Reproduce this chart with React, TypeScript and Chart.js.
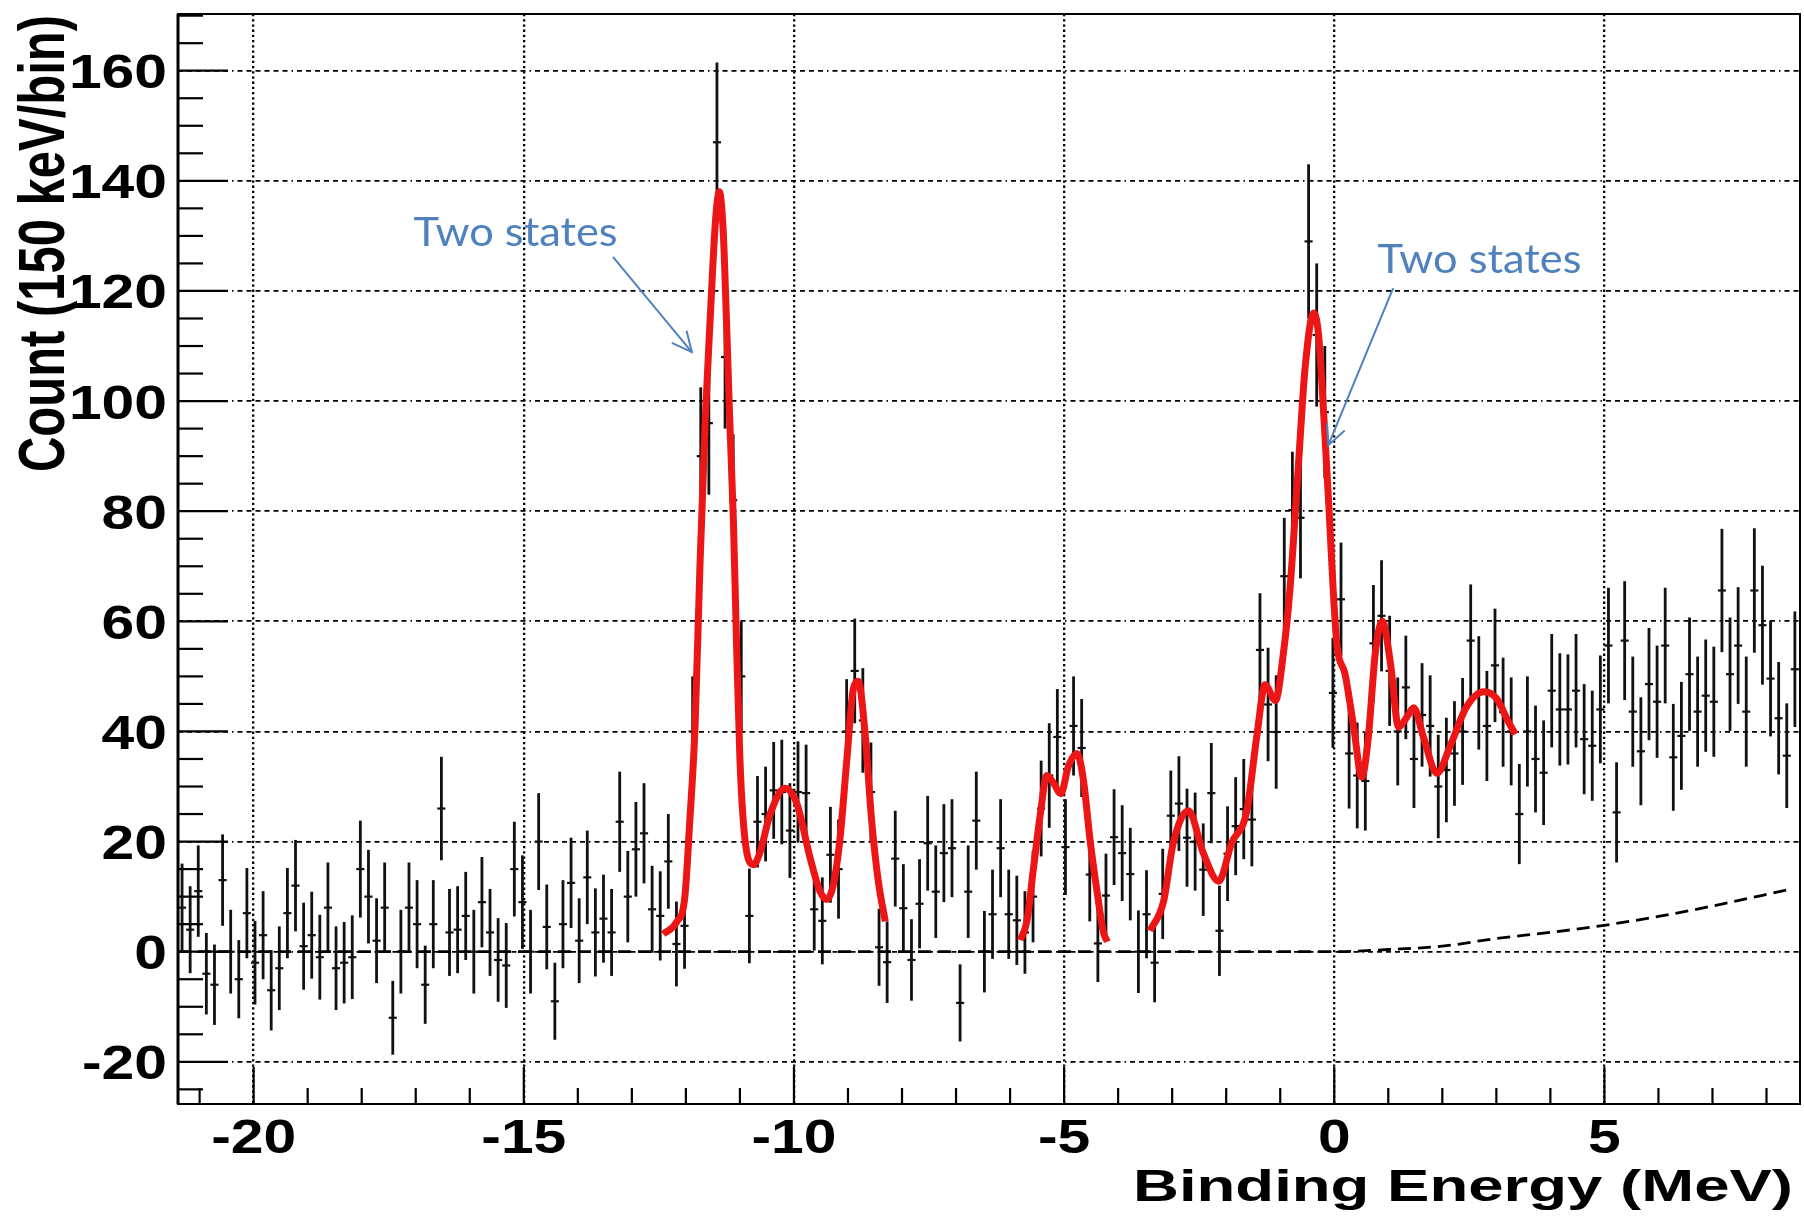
import React, { useEffect, useRef } from "react";
import { Chart, registerables } from "chart.js";

Chart.register(...registerables);

// ---------- data ----------
const BIN_LOW = -21.4; // MeV, lower edge of first bin
const BIN_WIDTH = 0.15; // MeV (150 keV/bin)

const COUNTS = [
  8, 4, 11, -4, -6, 13, 0, -5, 7, -2,
  3, -7, -3, 7, 12, 1, 3, -1, 8, -3,
  -2, -1, 15, 10, 2, 8, -12, 0, 8, 5,
  -6, 5, 26, 3.5, 4, 6.5, 0, 9, 3.5, -1.5,
  -2.5, 15, 9, 0, 20, 4.5, -9, 5, 12.5, 2,
  13.5, 3.5, 6, 3.5, 23.6, 10, 18.6, 21.5, 7.7, 6.5,
  16.4, 1.4, 4.7, 40, 90, 96, 147, 108, 82, 50,
  6.5, 23.6, 25, 29.3, 29, 22, 29, 28.8, 7.7, 5.6,
  17.6, 15, 40, 51, 42, 29, 0.8, -1.9, 16.9, 7.9,
  -1.5, 8.7, 19.7, 10.9, 17.9, 18.8, -9.3, 10.9, 23.8, 0,
  6.8, 18.8, 6.8, 5.7, 3.5, 10, 26, 32, 39, 19,
  41, 37, 14, 1.5, 10.2, 20.8, 17.9, 14.1, 0, 6.8,
  -2, 10.5, 24.7, 26.9, 20.7, 20, 14.9, 28.8, 3.8, 17.8,
  22.8, 25.9, 24, 54.8, 44.9, 39.9, 68.2, 80.2, 78.8, 129,
  112, 98, 47, 64, 36, 32, 31, 56, 61, 51,
  40, 48, 35, 43, 41, 30, 33, 36, 40, 56.5,
  47, 41, 52, 43.5, 40, 25, 40, 35, 32.5, 47.4,
  44, 44, 47.4, 38.6, 37.4, 44, 55.6, 25.3, 56.5, 43.6,
  36.4, 48.6, 45.4, 55.6, 35.3, 39.2, 50.4, 43.6, 46.5, 45.4,
  65.6, 50.4, 55.6, 43.6, 65.6, 59.3, 49.6, 42.4, 35.6, 51.3,
];

const ERRORS = [
  8, 7.9, 8.3, 7.4, 7.3, 8.3, 7.6, 7.1, 8.2, 7.6,
  8, 7.3, 7.6, 8.2, 8.3, 7.9, 7.9, 7.7, 8.2, 7.6,
  7.4, 7.6, 8.8, 8.5, 7.7, 8.2, 6.7, 7.6, 8.2, 8,
  7.1, 8, 9.4, 7.9, 7.9, 8, 7.6, 8.2, 7.9, 7.6,
  7.7, 8.6, 8.5, 7.6, 8.8, 7.7, 7, 8, 8.2, 7.7,
  8.5, 8, 8, 7.9, 9.1, 8.3, 8.6, 9.1, 7.9, 8.1,
  8.6, 7.7, 7.8, 10, 12.5, 13, 14.5, 13, 12, 10,
  8.6, 8.3, 8.6, 8.8, 9.5, 8.6, 9.2, 8.8, 7.5, 7.9,
  8.7, 9, 9.5, 9.5, 9.5, 9, 7, 7.4, 8.7, 8,
  7.4, 8.1, 8.6, 8.4, 8.9, 8.9, 7, 8.4, 8.9, 7.4,
  8.1, 8.9, 8.1, 8.1, 7.5, 8.3, 8.7, 9.5, 8.7, 8.7,
  9, 8.9, 8.5, 7, 7.6, 8.7, 8.7, 8.4, 7.5, 8,
  7.2, 8.2, 8.2, 8.6, 8.9, 8.9, 8.4, 9.1, 8.2, 8.6,
  8.9, 9.1, 8.5, 10.3, 10.3, 10.3, 10.6, 10.6, 11, 14,
  13, 12, 10, 10.3, 10, 9.6, 9, 10.6, 10.1, 10,
  9.8, 9.4, 8.9, 9.4, 9.2, 9.4, 9.5, 9.5, 9.7, 10.2,
  10.3, 10, 10.3, 9.9, 9.8, 9.1, 10, 9.7, 9.5, 10.3,
  10.2, 10, 10.3, 10, 10, 9.8, 10.5, 9.1, 10.8, 10,
  9.8, 10.2, 10.2, 10.5, 9.7, 9.8, 10.3, 10, 10.2, 10,
  11.2, 10.3, 10.6, 10, 11.3, 10.8, 10.5, 10.2, 9.5, 10.5,
];

// fitted curve (three segments)
const FIT1_X = [-12.42, -12.17, -12.02, -11.93, -11.83, -11.74, -11.64, -11.55, -11.45, -11.38, -11.31, -11.25, -11.19, -11.12, -11.06, -11.0, -10.94, -10.85, -10.75, -10.63, -10.44, -10.17, -9.95, -9.7, -9.52, -9.39, -9.27, -9.15, -9.02, -8.9, -8.81, -8.69, -8.56, -8.44, -8.31];
const FIT1_Y = [3.2, 5.4, 9.9, 23.4, 41, 70, 97, 115, 133, 138, 131, 115, 97, 78, 55, 35, 24, 17, 15.8, 18, 25, 29.7, 27, 17, 11, 9.5, 12.2, 20.3, 35, 47.8, 49.1, 40.4, 23.6, 12.9, 5.5];

const FIT2_X = [-5.81, -5.69, -5.57, -5.44, -5.32, -5.2, -5.06, -4.92, -4.76, -4.64, -4.52, -4.39, -4.27, -4.2];
const FIT2_Y = [2.1, 5.5, 14.9, 25, 32, 30.7, 28.7, 33.7, 36, 31, 20.3, 10.9, 3.5, 1.8];

const FIT3_X = [-3.41, -3.16, -2.98, -2.7, -2.42, -2.14, -1.9, -1.62, -1.43, -1.28, -1.09, -0.94, -0.82, -0.66, -0.54, -0.38, -0.29, -0.2, -0.1, -0.02, 0.05, 0.2, 0.36, 0.51, 0.63, 0.76, 0.89, 1.04, 1.19, 1.35, 1.47, 1.65, 1.9, 2.15, 2.45, 2.77, 3.01, 3.2, 3.35];
const FIT3_Y = [3.8, 9.1, 19.7, 25.6, 17.8, 12.8, 19.7, 25.5, 39.4, 48.5, 45.6, 54.3, 65.8, 88.9, 106, 116, 112, 98.5, 81, 65.8, 55.7, 50.4, 40.8, 31.7, 38.9, 54.3, 60, 52.4, 40.8, 42.7, 44.3, 39, 32.4, 37.5, 44.5, 47.2, 45.9, 42.2, 39.5];

// background (dashed)
const BG_X = [-21.4, 0, 1, 2, 3, 4, 5, 6, 7, 8.38];
const BG_Y = [0, 0, 0.4, 1.0, 2.4, 3.5, 4.8, 6.4, 8.3, 11.2];

const X_TICKS = [-20, -15, -10, -5, 0, 5];
const Y_TICKS = [-20, 0, 20, 40, 60, 80, 100, 120, 140, 160];
const X_TITLE = "Binding Energy (MeV)";
const Y_TITLE = "Count (150 keV/bin)";
const NOTE_TEXT = "Two states";

// ---------- layout / style ----------
const W = 1804;
const H = 1217;
const X_MIN = -21.4;
const X_MAX = 8.62;
const Y_MIN = -27.66;
const Y_MAX = 170.3;
const X_MINOR_STEP = 1;
const Y_MINOR_STEP = 5;
const BOLD = '"Liberation Sans", Arial, Helvetica, sans-serif';
const NOTE_COLOR = "#4F81BD";

const NOTES = [
  { tx: -17.04, ty: 128.2, ax0: -13.35, ay0: 126.2, ax1: -11.89, ay1: 108.9 },
  { tx: 0.8, ty: 123.3, ax0: 1.09, ay0: 120.5, ax1: -0.11, ay1: 92.0 },
];

const pts = (xs: number[], ys: number[]) => xs.map((x, i) => ({ x, y: ys[i] }));

function drawStretched(ctx: CanvasRenderingContext2D, text: string, x: number, y: number, sx: number, align: string) {
  const w = ctx.measureText(text).width * sx;
  const x0 = align === "right" ? x - w : align === "center" ? x - w / 2 : x;
  ctx.save();
  ctx.translate(x0, y);
  ctx.scale(sx, 1);
  ctx.textAlign = "left";
  ctx.fillText(text, 0, 0);
  ctx.restore();
}

const histPlugin = {
  id: "histDecor",
  beforeDatasetsDraw(chart: any) {
    const { ctx, chartArea: a } = chart;
    const xs = chart.scales.x;
    const ys = chart.scales.y;
    ctx.save();
    ctx.beginPath();
    ctx.rect(a.left, a.top, a.right - a.left, a.bottom - a.top);
    ctx.clip();
    ctx.strokeStyle = "#111";
    ctx.lineCap = "butt";
    COUNTS.forEach((v, k) => {
      const lo = BIN_LOW + k * BIN_WIDTH;
      const hi = lo + BIN_WIDTH;
      const c = lo + BIN_WIDTH / 2;
      const px = xs.getPixelForValue(c);
      const py = ys.getPixelForValue(v);
      ctx.lineWidth = 2.8;
      ctx.beginPath();
      ctx.moveTo(px, ys.getPixelForValue(v + ERRORS[k]));
      ctx.lineTo(px, ys.getPixelForValue(v - ERRORS[k]));
      ctx.stroke();
      ctx.lineWidth = 2.2;
      ctx.beginPath();
      ctx.moveTo(xs.getPixelForValue(lo), py);
      ctx.lineTo(xs.getPixelForValue(hi), py);
      ctx.stroke();
    });
    ctx.restore();
  },
  afterDraw(chart: any) {
    const { ctx, chartArea: a } = chart;
    const xs = chart.scales.x;
    const ys = chart.scales.y;
    ctx.save();
    ctx.strokeStyle = "#000";
    ctx.fillStyle = "#000";
    ctx.setLineDash([]);

    // frame
    ctx.lineWidth = 2;
    ctx.strokeRect(a.left, a.top, a.right - a.left, a.bottom - a.top);
    ctx.lineWidth = 3;
    ctx.beginPath();
    ctx.moveTo(a.left, a.top);
    ctx.lineTo(a.left, a.bottom);
    ctx.stroke();

    // y ticks (inside, from left)
    ctx.lineWidth = 2.2;
    for (let v = Math.ceil(Y_MIN / Y_MINOR_STEP) * Y_MINOR_STEP; v <= Y_MAX; v += Y_MINOR_STEP) {
      const py = ys.getPixelForValue(v);
      const major = Y_TICKS.includes(v);
      ctx.beginPath();
      ctx.moveTo(a.left, py);
      ctx.lineTo(a.left + (major ? 50 : 25), py);
      ctx.stroke();
    }
    // x ticks (inside, from bottom)
    for (let v = Math.ceil(X_MIN / X_MINOR_STEP) * X_MINOR_STEP; v <= X_MAX; v += X_MINOR_STEP) {
      const px = xs.getPixelForValue(v);
      const major = X_TICKS.includes(v);
      ctx.beginPath();
      ctx.moveTo(px, a.bottom);
      ctx.lineTo(px, a.bottom - (major ? 37 : 16));
      ctx.stroke();
    }

    // tick labels
    ctx.font = `bold 49px ${BOLD}`;
    ctx.textBaseline = "alphabetic";
    Y_TICKS.forEach((v) => {
      drawStretched(ctx, String(v), a.left - 11, ys.getPixelForValue(v) + 17.5, 1.2, "right");
    });
    X_TICKS.forEach((v) => {
      drawStretched(ctx, String(v), xs.getPixelForValue(v), a.bottom + 49, 1.2, "center");
    });

    // x title
    ctx.font = `bold 44px ${BOLD}`;
    {
      const w = ctx.measureText(X_TITLE).width;
      const target = 660;
      drawStretched(ctx, X_TITLE, a.right - 7 - target, a.bottom + 97, target / w, "left");
    }
    // y title
    ctx.font = `bold 49px ${BOLD}`;
    {
      const w = ctx.measureText(Y_TITLE).width;
      ctx.save();
      ctx.translate(64, 472);
      ctx.rotate(-Math.PI / 2);
      ctx.scale(457 / w, 1.33);
      ctx.textAlign = "left";
      ctx.fillText(Y_TITLE, 0, 0);
      ctx.restore();
    }

    // annotations
    ctx.font = `40px Lato, "Open Sans", sans-serif`;
    ctx.fillStyle = NOTE_COLOR;
    ctx.strokeStyle = NOTE_COLOR;
    ctx.lineWidth = 2;
    const nw = ctx.measureText(NOTE_TEXT).width;
    NOTES.forEach((n) => {
      drawStretched(ctx, NOTE_TEXT, xs.getPixelForValue(n.tx), ys.getPixelForValue(n.ty), 204 / nw, "left");
      const x0 = xs.getPixelForValue(n.ax0);
      const y0 = ys.getPixelForValue(n.ay0);
      const x1 = xs.getPixelForValue(n.ax1);
      const y1 = ys.getPixelForValue(n.ay1);
      ctx.beginPath();
      ctx.moveTo(x0, y0);
      ctx.lineTo(x1, y1);
      ctx.stroke();
      const ang = Math.atan2(y1 - y0, x1 - x0);
      const L = 22;
      const spread = 0.45;
      ctx.beginPath();
      ctx.moveTo(x1 - L * Math.cos(ang - spread), y1 - L * Math.sin(ang - spread));
      ctx.lineTo(x1, y1);
      ctx.lineTo(x1 - L * Math.cos(ang + spread), y1 - L * Math.sin(ang + spread));
      ctx.stroke();
    });
    ctx.restore();
  },
};

export default function App() {
  const ref = useRef<HTMLCanvasElement | null>(null);
  useEffect(() => {
    if (!ref.current) return;
    const red = "rgb(236,22,22)";
    const fitStyle = {
      borderColor: red,
      borderWidth: 7,
      pointRadius: 0,
      showLine: true,
      fill: false,
      cubicInterpolationMode: "monotone" as const,
    };
    const hDash = [5, 4, 5, 4, 5, 4, 5, 4, 5, 4, 5, 4, 1.5, 4];
    const chart = new Chart(ref.current, {
      type: "scatter",
      data: {
        datasets: [
          {
            label: "background",
            data: pts(BG_X, BG_Y),
            borderColor: "#000",
            borderWidth: 2.8,
            borderDash: [13, 7],
            pointRadius: 0,
            showLine: true,
            fill: false,
            cubicInterpolationMode: "monotone",
          },
          { label: "fit1", data: pts(FIT1_X, FIT1_Y), ...fitStyle },
          { label: "fit2", data: pts(FIT2_X, FIT2_Y), ...fitStyle },
          { label: "fit3", data: pts(FIT3_X, FIT3_Y), ...fitStyle },
        ],
      },
      options: {
        animation: false,
        responsive: false,
        devicePixelRatio: 1,
        layout: { padding: { left: 178, top: 14, right: 4, bottom: 113 } },
        plugins: { legend: { display: false }, tooltip: { enabled: false } },
        scales: {
          x: {
            type: "linear",
            min: X_MIN,
            max: X_MAX,
            afterBuildTicks: (axis: any) => {
              axis.ticks = X_TICKS.map((v) => ({ value: v }));
            },
            ticks: { display: false },
            grid: { color: "#000", lineWidth: 2.3, drawTicks: false },
            border: { display: false, dash: [2.3, 2.9] },
          },
          y: {
            type: "linear",
            min: Y_MIN,
            max: Y_MAX,
            afterBuildTicks: (axis: any) => {
              axis.ticks = Y_TICKS.map((v) => ({ value: v }));
            },
            ticks: { display: false },
            grid: { color: "#000", lineWidth: 1.7, drawTicks: false },
            border: { display: false, dash: hDash },
          },
        },
      },
      plugins: [histPlugin],
    } as any);
    return () => chart.destroy();
  }, []);
  return (
    <div style={{ position: "fixed", left: 0, top: 0, width: W, height: H, background: "#fff" }}>
      <canvas ref={ref} width={W} height={H} style={{ display: "block" }} />
    </div>
  );
}
